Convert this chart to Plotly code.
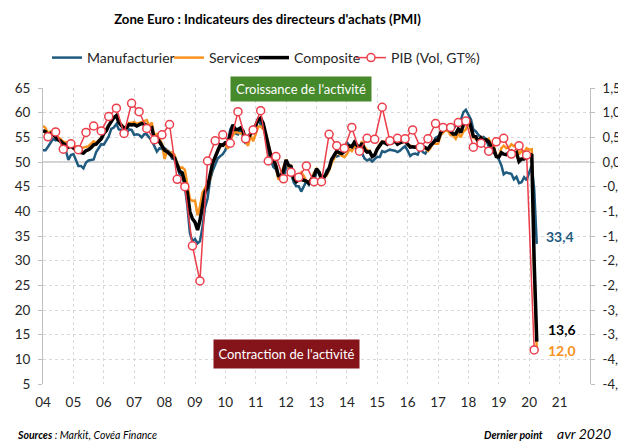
import plotly.graph_objects as go
import pandas as pd

# ---------------- data ----------------
month_dates = pd.date_range("2004-01-01", "2020-04-01", freq="MS")
gdp_dates = pd.date_range("2004-03-01", "2020-03-01", freq="3MS")

manufacturier = [
    52.4, 52.4, 53.1, 54.0, 54.7, 54.4, 54.6, 54.0, 53.1, 52.4, 50.4, 51.4,  # 2004
    51.6, 50.4, 49.2, 49.2, 48.7, 49.9, 50.3, 50.4, 50.5, 52.0, 52.7, 53.6,  # 2005
    53.5, 54.5, 55.2, 56.7, 57.0, 57.7, 56.6, 56.5, 56.0, 55.9, 56.6, 56.5,  # 2006
    55.5, 55.6, 55.5, 55.0, 55.6, 55.6, 54.9, 54.3, 53.2, 52.1, 52.8, 52.6,  # 2007
    52.8, 52.3, 52.0, 50.7, 50.6, 49.2, 47.4, 47.6, 45.0, 41.1, 35.6, 33.9,  # 2008
    34.4, 33.5, 33.9, 36.8, 40.7, 42.6, 46.3, 48.2, 49.3, 50.7, 51.2, 51.6,  # 2009
    52.4, 54.2, 56.6, 57.6, 55.8, 55.6, 56.7, 55.1, 53.7, 54.6, 55.3, 57.1,  # 2010
    57.3, 59.0, 57.5, 58.0, 54.6, 52.0, 50.4, 49.0, 48.5, 47.1, 46.4, 46.9,  # 2011
    48.8, 49.0, 47.7, 45.9, 45.1, 45.1, 44.0, 45.1, 46.1, 45.4, 46.2, 46.1,  # 2012
    47.9, 47.9, 46.8, 46.7, 48.3, 48.8, 50.3, 51.4, 51.1, 51.3, 51.6, 52.7,  # 2013
    54.0, 53.2, 53.0, 53.4, 52.2, 51.8, 51.8, 50.7, 50.3, 50.6, 50.1, 50.6,  # 2014
    51.0, 51.0, 52.2, 52.0, 52.2, 52.5, 52.4, 52.3, 52.0, 52.3, 52.8, 53.2,  # 2015
    52.3, 51.2, 51.6, 51.7, 51.5, 52.8, 52.0, 51.7, 52.6, 53.5, 53.7, 54.9,  # 2016
    55.2, 55.4, 56.2, 56.7, 57.0, 57.4, 56.6, 57.4, 58.1, 58.5, 60.1, 60.6,  # 2017
    59.6, 58.6, 56.6, 56.2, 55.5, 54.9, 55.1, 54.6, 53.2, 52.0, 51.8, 51.4,  # 2018
    50.5, 49.3, 47.5, 47.9, 47.7, 47.6, 46.5, 47.0, 45.7, 45.9, 46.9, 46.3,  # 2019
    47.9, 49.2, 44.5, 33.4,                                                  # 2020
]

services = [
    57.3, 56.9, 55.8, 56.2, 56.0, 55.4, 55.0, 54.6, 54.1, 54.0, 53.9, 53.8,  # 2004
    53.3, 53.2, 53.0, 52.8, 52.9, 53.1, 53.2, 53.7, 54.2, 53.9, 54.4, 54.9,  # 2005
    56.0, 56.8, 57.6, 58.4, 59.0, 59.4, 58.2, 57.6, 57.0, 57.3, 57.9, 57.9,  # 2006
    58.1, 57.7, 57.9, 58.1, 58.3, 58.5, 57.2, 58.0, 55.0, 55.8, 54.7, 53.7,  # 2007
    50.6, 52.3, 51.8, 52.0, 51.4, 49.7, 48.8, 48.9, 48.4, 45.8, 42.5, 42.1,  # 2008
    42.2, 39.2, 40.9, 43.8, 44.8, 45.6, 46.4, 49.9, 50.9, 52.6, 53.0, 53.6,  # 2009
    53.4, 52.7, 54.5, 55.5, 56.2, 55.9, 55.8, 55.9, 54.1, 53.3, 55.4, 54.2,  # 2010
    55.9, 57.2, 57.2, 56.7, 56.0, 53.7, 51.6, 51.5, 48.8, 46.4, 47.5, 48.8,  # 2011
    50.5, 48.8, 49.2, 46.9, 46.7, 47.1, 47.9, 47.2, 46.1, 46.0, 46.7, 47.8,  # 2012
    48.6, 47.9, 46.4, 47.0, 47.2, 48.3, 49.8, 50.7, 52.2, 51.6, 51.2, 51.0,  # 2013
    51.6, 52.6, 52.2, 53.1, 53.2, 52.8, 54.2, 53.1, 52.4, 52.3, 51.1, 51.6,  # 2014
    52.7, 53.7, 54.2, 54.1, 53.8, 54.4, 54.0, 54.4, 53.7, 54.1, 54.2, 54.2,  # 2015
    53.6, 53.3, 53.1, 53.1, 53.3, 52.8, 52.9, 52.8, 52.2, 52.8, 53.8, 53.7,  # 2016
    53.7, 55.5, 56.0, 56.4, 56.3, 55.4, 55.4, 54.7, 55.8, 55.0, 56.2, 56.6,  # 2017
    58.0, 56.2, 54.9, 54.7, 53.8, 55.2, 54.2, 54.4, 54.7, 53.7, 53.4, 51.2,  # 2018
    51.2, 52.8, 53.3, 52.8, 52.9, 53.6, 53.2, 53.5, 51.6, 52.2, 51.9, 52.8,  # 2019
    52.5, 52.6, 26.4, 12.0,                                                  # 2020
]

composite = [
    56.4, 56.1, 55.4, 55.8, 55.6, 55.0, 54.5, 54.2, 53.7, 53.5, 53.0, 53.2,  # 2004
    52.8, 52.4, 52.2, 51.9, 51.8, 52.3, 52.5, 52.9, 53.5, 53.6, 54.1, 54.7,  # 2005
    55.8, 56.4, 57.4, 58.3, 59.0, 59.4, 58.0, 57.4, 56.8, 56.9, 57.6, 57.5,  # 2006
    57.6, 57.3, 57.6, 57.8, 57.7, 57.4, 56.7, 56.9, 54.7, 54.9, 54.1, 53.4,  # 2007
    52.4, 52.1, 51.6, 51.2, 50.8, 49.3, 48.1, 47.8, 45.6, 43.8, 39.9, 38.5,  # 2008
    37.8, 36.2, 38.1, 41.0, 43.9, 44.9, 47.1, 49.8, 51.0, 52.5, 53.5, 53.4,  # 2009
    53.9, 53.7, 55.9, 57.5, 56.6, 56.6, 56.9, 56.3, 54.5, 54.8, 55.8, 56.6,  # 2010
    57.4, 58.6, 58.9, 57.8, 55.8, 53.5, 51.3, 50.6, 49.2, 47.2, 47.0, 48.3,  # 2011
    50.4, 49.3, 49.1, 46.7, 46.0, 46.4, 46.5, 46.3, 46.1, 45.7, 46.5, 47.2,  # 2012
    48.6, 47.9, 46.5, 46.9, 47.7, 48.7, 50.5, 51.5, 52.2, 51.9, 51.7, 52.1,  # 2013
    52.9, 53.3, 53.1, 54.0, 53.5, 52.8, 53.8, 52.5, 52.0, 52.1, 51.1, 51.4,  # 2014
    52.6, 53.3, 54.0, 53.9, 53.6, 54.2, 53.9, 54.3, 53.6, 53.9, 54.2, 54.3,  # 2015
    53.6, 53.0, 53.1, 53.0, 53.1, 53.1, 53.2, 52.9, 52.6, 53.3, 53.9, 54.4,  # 2016
    54.4, 56.0, 56.4, 56.8, 56.8, 56.3, 55.7, 55.7, 56.7, 56.0, 57.5, 58.1,  # 2017
    58.8, 57.1, 55.2, 55.1, 54.1, 54.9, 54.3, 54.5, 54.1, 53.1, 52.7, 51.1,  # 2018
    51.0, 51.9, 51.6, 51.5, 51.8, 52.2, 51.5, 51.9, 50.1, 50.6, 50.6, 50.9,  # 2019
    51.3, 51.6, 29.7, 13.6,                                                  # 2020
]

pib = [
    0.51, 0.61, 0.26, 0.37,     # 2004
    0.25, 0.60, 0.73, 0.63,     # 2005
    0.92, 1.09, 0.58, 1.19,     # 2006
    1.02, 0.68, 0.45, 0.55,     # 2007
    0.76, -0.35, -0.50, -1.70,  # 2008
    -2.41, 0.02, 0.43, 0.55,    # 2009
    0.38, 1.02, 0.47, 0.65,     # 2010
    1.04, 0.02, 0.11, -0.34,    # 2011
    -0.21, -0.31, -0.08, -0.40, # 2012
    -0.40, 0.56, 0.33, 0.28,    # 2013
    0.70, 0.22, 0.48, 0.46,     # 2014
    1.11, 0.43, 0.48, 0.47,     # 2015
    0.65, 0.30, 0.47, 0.78,     # 2016
    0.70, 0.70, 0.80, 0.83,     # 2017
    0.30, 0.38, 0.22, 0.41,     # 2018
    0.48, 0.16, 0.33, 0.14,     # 2019
    -3.81,                      # 2020
]

year_ticks = [f"{y}-01-01" for y in range(2004, 2022)]
year_labels = ["04", "05", "06", "07", "08", "09", "10", "11", "12",
               "13", "14", "15", "16", "17", "18", "19", "20", "21"]
left_ticks = [5, 10, 15, 20, 25, 30, 35, 40, 45, 50, 55, 60, 65]
right_ticks = [-4.5, -4.0, -3.5, -3.0, -2.5, -2.0, -1.5, -1.0, -0.5, 0.0, 0.5, 1.0, 1.5]
right_labels = ["-4,5", "-4,0", "-3,5", "-3,0", "-2,5", "-2,0", "-1,5", "-1,0",
                "-0,5", "0,0", "0,5", "1,0", "1,5"]

# ---------------- styles ----------------
FONT = "Lato, Carlito, Calibri, sans-serif"
C_MANU = "#1f5a7f"
C_SERV = "#f7931e"
C_COMP = "#000000"
C_PIB = "#ec3d4a"
GRID = "#d9d9d9"
AXIS = "#bfbfbf"

OFF = 8                      # page body margin of the html page
W, H = 626 - OFF, 441 - OFF  # figure size so that it fills the window
L, T = 43 - OFF, 88 - OFF    # plot area starts at page (43, 88)
PW, PH = 547, 296
R, B = W - L - PW, H - T - PH


def px_x(px):
    """page x pixel -> paper fraction"""
    return (px - OFF - L) / PW


def px_y(py):
    """page y pixel -> paper fraction"""
    return (T + PH - (py - OFF)) / PH


fig = go.Figure()

fig.add_trace(go.Scatter(x=month_dates, y=manufacturier, name="Manufacturier",
                         mode="lines", line=dict(color=C_MANU, width=2.5),
                         legend="legend"))
fig.add_trace(go.Scatter(x=month_dates, y=services, name="Services",
                         mode="lines", line=dict(color=C_SERV, width=2.5),
                         legend="legend2"))
fig.add_trace(go.Scatter(x=month_dates, y=composite, name="Composite",
                         mode="lines", line=dict(color=C_COMP, width=3.5),
                         legend="legend3"))
fig.add_trace(go.Scatter(x=gdp_dates, y=pib, name="PIB (Vol, GT%)", yaxis="y2",
                         mode="lines+markers", line=dict(color=C_PIB, width=1.5),
                         marker=dict(symbol="circle", size=8, color="white",
                                     line=dict(color=C_PIB, width=1.5)),
                         legend="legend4"))

leg_common = dict(orientation="h", xref="container", yref="container",
                  yanchor="middle", xanchor="left", y=1 - (58 - OFF) / H,
                  bgcolor="rgba(0,0,0,0)", font=dict(family=FONT, size=14, color="#262626"),
                  borderwidth=0)

fig.update_layout(
    width=W, height=H,
    margin=dict(l=L, r=R, t=T, b=B, autoexpand=False),
    paper_bgcolor="white", plot_bgcolor="white",
    font=dict(family=FONT, color="#262626"),
    showlegend=True,
    legend=dict(leg_common, x=(62 - 15 - OFF) / W),
    legend2=dict(leg_common, x=(184 - 15 - OFF) / W),
    legend3=dict(leg_common, x=(269 - 15 - OFF) / W),
    legend4=dict(leg_common, x=(366 - 15 - OFF) / W),
    title=dict(text="<b>Zone Euro : Indicateurs des directeurs d'achats (PMI)</b>",
               x=(267.5 - OFF) / W, xref="container", xanchor="center",
               y=1 - (19 - OFF) / H, yref="container", yanchor="middle",
               font=dict(family=FONT, size=13.2, color="#000000")),
    xaxis=dict(type="date", range=["2004-01-01", "2022-01-01"],
               tickvals=year_ticks, ticktext=year_labels,
               showgrid=True, gridcolor=GRID, griddash="dot", gridwidth=1,
               showline=False, zeroline=False, ticks="",
               tickfont=dict(family=FONT, size=13.5, color="#262626"),
               ticklabelstandoff=8, automargin=False),
    yaxis=dict(range=[5, 65], tickvals=left_ticks,
               showgrid=True, gridcolor=GRID, griddash="dot", gridwidth=1,
               showline=True, linecolor=AXIS, linewidth=1,
               ticks="outside", ticklen=4, tickcolor=AXIS,
               zeroline=False,
               tickfont=dict(family=FONT, size=13.5, color="#262626"),
               ticklabelstandoff=5, automargin=False),
    yaxis2=dict(range=[-4.5, 1.5], overlaying="y", side="right",
                tickvals=right_ticks, ticktext=right_labels,
                showgrid=False, showline=True, linecolor=AXIS, linewidth=1,
                ticks="outside", ticklen=4, tickcolor=AXIS, zeroline=False,
                tickfont=dict(family=FONT, size=13, color="#262626"),
                ticklabelstandoff=5, automargin=False),
    shapes=[dict(type="line", xref="paper", x0=0, x1=1, yref="y", y0=50, y1=50,
                 line=dict(color="#a6a6a6", width=1), layer="below")],
)

annotations = [
    dict(text="Croissance de l'activité", x=px_x(301), y=px_y(89),
         width=138, height=22, bgcolor="#468a2c",
         font=dict(family=FONT, size=13, color="white")),
    dict(text="Contraction de l'activité", x=px_x(286.5), y=px_y(354),
         width=143, height=26, bgcolor="#85141a",
         font=dict(family=FONT, size=13, color="white")),
    dict(text="<b>33,4</b>", x=px_x(560), y=px_y(236),
         font=dict(family=FONT, size=14, color=C_MANU)),
    dict(text="<b>13,6</b>", x=px_x(562), y=px_y(329),
         font=dict(family=FONT, size=14, color="#000000")),
    dict(text="<b>12,0</b>", x=px_x(562), y=px_y(350),
         font=dict(family=FONT, size=14, color=C_SERV)),
    dict(text="<b><i>Sources</i></b><i> : Markit, Covéa Finance</i>",
         x=px_x(15), y=px_y(435), xanchor="left",
         font=dict(family=FONT, size=10.5, color="#000000")),
    dict(text="<b><i>Dernier point</i></b>", x=px_x(545), y=px_y(435), xanchor="right",
         font=dict(family=FONT, size=10.5, color="#000000")),
    dict(text="<i>avr 2020</i>", x=px_x(555), y=px_y(433), xanchor="left",
         font=dict(family=FONT, size=14, color="#000000")),
]
for a in annotations:
    a.setdefault("xref", "paper")
    a.setdefault("yref", "paper")
    a.setdefault("showarrow", False)
    a.setdefault("xanchor", "center")
    a.setdefault("yanchor", "middle")
fig.update_layout(annotations=annotations)

fig.write_html("out.html")
